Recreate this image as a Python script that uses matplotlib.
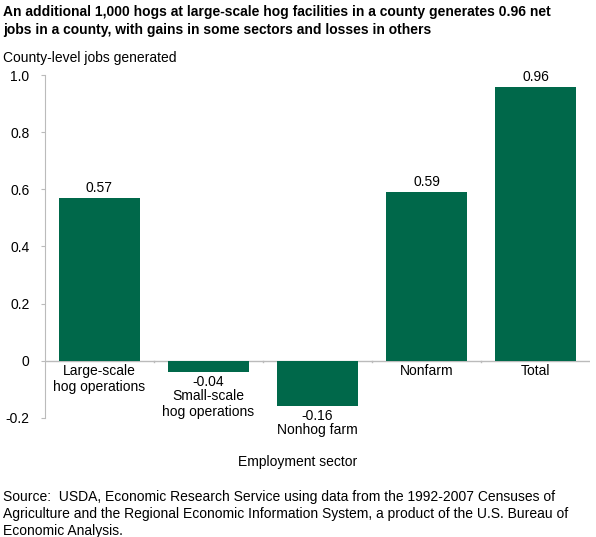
import matplotlib
matplotlib.use("Agg")
import matplotlib.pyplot as plt

categories = ["Large-scale\nhog operations", "Small-scale\nhog operations", "Nonhog farm", "Nonfarm", "Total"]
values = [0.57, -0.04, -0.16, 0.59, 0.96]
labels = ["0.57", "-0.04", "-0.16", "0.59", "0.96"]
yticks = [-0.2, 0, 0.2, 0.4, 0.6, 0.8, 1.0]
yticklabels = ["-0.2", "0", "0.2", "0.4", "0.6", "0.8", "1.0"]

plt.rcParams['font.family'] = ['Liberation Sans', 'DejaVu Sans']
fig = plt.figure(figsize=(5.96, 5.37), dpi=100)
ax = fig.add_axes([0.075, 0.222, 0.915, 0.638])
color = "#00684a"
x = range(len(values))
ax.bar(x, values, width=0.74, color=color)
ax.set_xlim(-0.5, 4.5)
ax.set_ylim(-0.2, 1.0)
ax.set_yticks(yticks)
ax.set_yticklabels(yticklabels, fontsize=10)
ax.set_xticks([])
for s in ["top", "right", "bottom"]:
    ax.spines[s].set_visible(False)
ax.spines["left"].set_color("#bbbbbb")
ax.tick_params(axis="y", length=3, color="#bbbbbb", pad=8)
ax.axhline(0, color="#bbbbbb", lw=1, zorder=0)
for b in [0.5, 1.5, 2.5, 3.5]:
    ax.plot([b, b], [0, -0.006], color="#bbbbbb", lw=1, clip_on=False)

for i, (v, l, c) in enumerate(zip(values, labels, categories)):
    if v >= 0:
        ax.text(i, v + 0.01, l, ha="center", va="bottom", fontsize=10)
        ax.text(i, -0.01, c, ha="center", va="top", fontsize=10, linespacing=1.2)
    else:
        ax.text(i, v - 0.01, l, ha="center", va="top", fontsize=10)
        ax.text(i, v - 0.06, c, ha="center", va="top", fontsize=10, linespacing=1.2)

fig.text(0.5, 0.132, "Employment sector", ha="center", fontsize=10)
fig.text(0.005, 0.99, "An additional 1,000 hogs at large-scale hog facilities in a county generates 0.96 net\njobs in a county, with gains in some sectors and losses in others",
         ha="left", va="top", fontsize=10, fontweight="bold", linespacing=1.3)
fig.text(0.005, 0.905, "County-level jobs generated", ha="left", va="top", fontsize=10)
fig.text(0.005, 0.088, "Source:  USDA, Economic Research Service using data from the 1992-2007 Censuses of\nAgriculture and the Regional Economic Information System, a product of the U.S. Bureau of\nEconomic Analysis.",
         ha="left", va="top", fontsize=10, linespacing=1.3)
fig.savefig("out.png", dpi=100)
